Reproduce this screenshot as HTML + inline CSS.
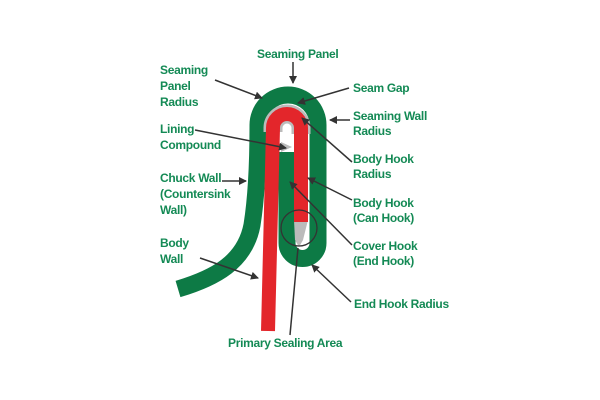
<!DOCTYPE html>
<html><head><meta charset="utf-8"><style>
html,body{margin:0;padding:0;background:#fff}
svg{display:block}
text{font-family:"Liberation Sans",sans-serif;font-weight:bold;font-size:12px;fill:#148a55;letter-spacing:-0.3px}
</style></head><body>
<svg width="600" height="400" viewBox="0 0 600 400" xmlns="http://www.w3.org/2000/svg">
<defs><marker id="a" markerWidth="8" markerHeight="8" refX="7" refY="4" orient="auto" markerUnits="userSpaceOnUse"><path d="M0,0 L8,4 L0,8 Z" fill="#333"/></marker></defs>
<path d="M178,289 C215,278 245,262 252,225 C256,200 258,170 258,125 A30,30 0 0 1 318,125 L318,243 A15.5,15.5 0 0 1 287,243 L287,152" fill="none" stroke="#0d7a45" stroke-width="17"/>
<path d="M273,132 L273,128 A14,14 0 0 1 301,128 L301,134" fill="none" stroke="#bbb" stroke-width="19"/>
<path d="M294,220 L308,220 L303,240 L299,247 L295,240 Z" fill="#bbb"/>
<path d="M281,142 L292,147 L281,152 Z" fill="#bbb"/>
<path d="M268,331 L273,128 A14,14 0 0 1 301,128 L301,222" fill="none" stroke="#e3262b" stroke-width="14"/>
<circle cx="299" cy="228" r="18" fill="none" stroke="#333" stroke-width="1.3"/>
<g stroke="#333" stroke-width="1.5" fill="none" marker-end="url(#a)">
<line x1="293" y1="62" x2="293" y2="83"/>
<line x1="215" y1="80" x2="262" y2="98"/>
<line x1="349" y1="88" x2="298" y2="103"/>
<line x1="350" y1="120" x2="330" y2="120"/>
<line x1="195" y1="130" x2="286" y2="148"/>
<line x1="352" y1="162" x2="302" y2="118"/>
<line x1="222" y1="181" x2="246" y2="181"/>
<line x1="352" y1="200" x2="308" y2="178"/>
<line x1="200" y1="258" x2="258" y2="278"/>
<line x1="352" y1="245" x2="290" y2="182"/>
<line x1="351" y1="302" x2="312" y2="265"/>
</g>
<line x1="298" y1="248" x2="290" y2="335" stroke="#333" stroke-width="1.5"/>
<text x="257" y="58">Seaming Panel</text>
<text x="160" y="74">Seaming</text><text x="160" y="90">Panel</text><text x="160" y="106">Radius</text>
<text x="160" y="133">Lining</text><text x="160" y="149">Compound</text>
<text x="160" y="182">Chuck Wall</text><text x="160" y="198">(Countersink</text><text x="160" y="214">Wall)</text>
<text x="160" y="247">Body</text><text x="160" y="263">Wall</text>
<text x="353" y="92">Seam Gap</text>
<text x="353" y="120">Seaming Wall</text><text x="353" y="135">Radius</text>
<text x="353" y="163">Body Hook</text><text x="353" y="178">Radius</text>
<text x="353" y="207">Body Hook</text><text x="353" y="222">(Can Hook)</text>
<text x="353" y="250">Cover Hook</text><text x="353" y="265">(End Hook)</text>
<text x="354" y="308">End Hook Radius</text>
<text x="228" y="347">Primary Sealing Area</text>
</svg>
</body></html>
